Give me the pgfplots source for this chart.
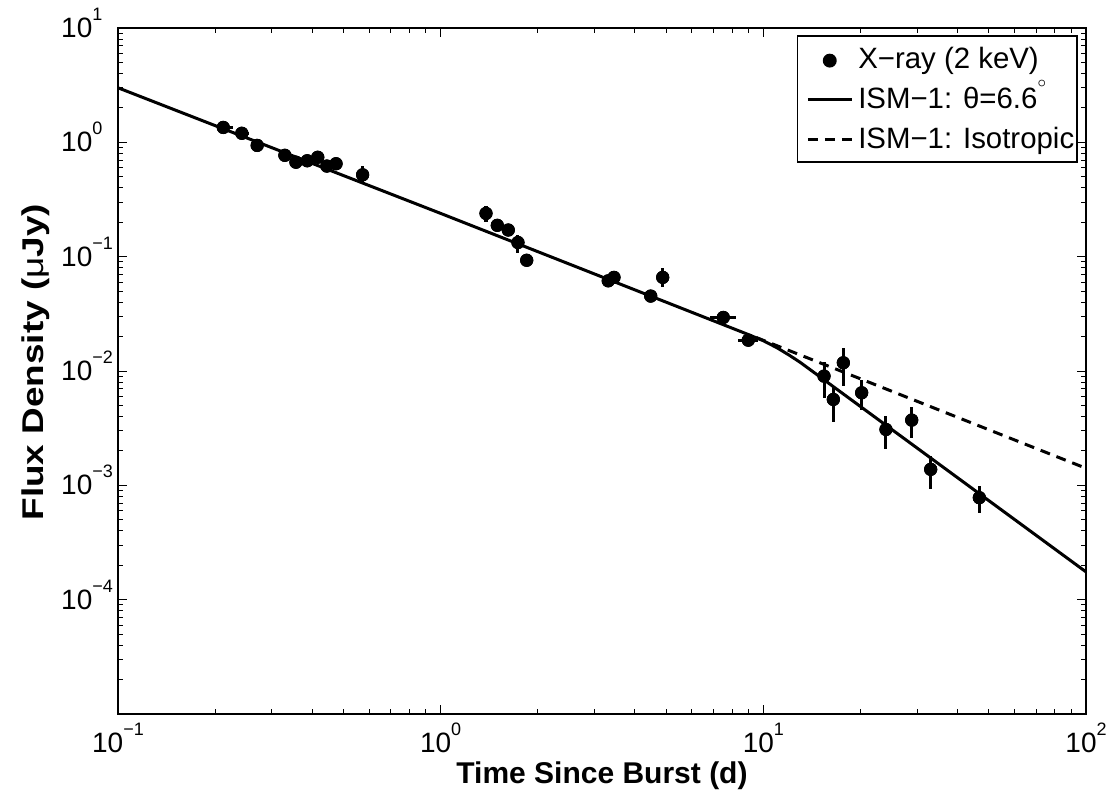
\documentclass[border=0pt]{standalone}
\usepackage{fontspec}
\setmainfont{Liberation Sans}
\usepackage{graphicx}
\usepackage{pgfplots}
\usepackage{pgfplotstable}
\pgfplotsset{compat=1.18}

\newcommand{\xt}[1]{10\raisebox{8.5pt}{\fontsize{9}{9}\selectfont #1}}
\newcommand{\yt}[1]{10\rlap{\smash{\raisebox{8.5pt}{\fontsize{9}{9}\selectfont #1}}}}
\newcommand{\dg}{\smash{\raisebox{10.5pt}{\fontsize{8}{8}\selectfont$\circ$}}}

\pgfplotstableread{
x      y        ep       em       xp     xm
0.212  1.35     0.08     0.08     0.015  0.010
0.242  1.20     0.07     0.07     0.012  0.010
0.270  0.94     0.06     0.06     0      0
0.329  0.77     0.05     0.05     0      0
0.356  0.67     0.05     0.05     0      0
0.386  0.69     0.05     0.05     0      0
0.416  0.74     0.06     0.06     0      0
0.444  0.62     0.06     0.06     0      0
0.474  0.65     0.05     0.05     0      0
0.573  0.52     0.10     0.07     0      0
1.382  0.239    0.040    0.037    0      0
1.498  0.188    0.015    0.015    0      0
1.620  0.171    0.015    0.015    0      0
1.736  0.133    0.023    0.026    0      0
1.848  0.093    0.010    0.010    0      0
3.307  0.0615   0.004    0.004    0      0
3.445  0.0659   0.005    0.005    0      0
4.877  0.0659   0.013    0.012    0      0
4.477  0.0452   0.003    0.003    0      0
7.515  0.0294   0.002    0.002    0.71   0.68
8.98   0.0186   0.0015   0.0015   0.67   0.65
15.42  0.00902  0.0030   0.00326  0      0
16.48  0.00564  0.00174  0.00205  0      0
17.70  0.0118   0.0040   0.0044   0      0
20.17  0.00645  0.0019   0.0019   0      0
23.99  0.00308  0.00095  0.00102  0      0
28.83  0.00372  0.00114  0.00115  0      0
33.01  0.00138  0.00042  0.00046  0      0
46.71  0.00078  0.00020  0.00021  0      0
}\xray

\begin{document}
\begin{tikzpicture}
\begin{axis}[
  xmode=log, ymode=log,
  scale only axis, width=484pt, height=343pt,
  xmin=0.1, xmax=100, ymin=1e-5, ymax=10,
  xtick={0.1,1,10,100},
  xticklabels={\xt{−1},\xt{0},\xt{1},\xt{2}},
  ytick={1e-4,1e-3,1e-2,1e-1,1,10},
  yticklabels={\yt{−4},\yt{−3},\yt{−2},\yt{−1},\yt{0},\yt{1}},
  minor xtick={0.2,0.3,0.4,0.5,0.6,0.7,0.8,0.9,2,3,4,5,6,7,8,9,20,30,40,50,60,70,80,90},
  minor ytick={2e-5,3e-5,4e-5,5e-5,6e-5,7e-5,8e-5,9e-5,
               2e-4,3e-4,4e-4,5e-4,6e-4,7e-4,8e-4,9e-4,
               2e-3,3e-3,4e-3,5e-3,6e-3,7e-3,8e-3,9e-3,
               2e-2,3e-2,4e-2,5e-2,6e-2,7e-2,8e-2,9e-2,
               0.2,0.3,0.4,0.5,0.6,0.7,0.8,0.9,2,3,4,5,6,7,8,9},
  tick pos=both, tick align=inside,
  major tick length=4.5pt, minor tick length=2.5pt,
  every tick/.style={black, line width=0.5pt},
  axis line style={line width=0.75pt},
  tick label style={font=\fontsize{14}{14}\selectfont},
  xticklabel style={yshift=-0.8pt},
  yticklabel style={anchor=east, xshift=-9.3pt},
  xlabel={\textbf{Time Since Burst (d)}},
  xlabel style={at={(axis description cs:0.5,-0.102)}, anchor=base, inner sep=0pt, font=\fontsize{15}{15}\selectfont},
  ylabel={\scalebox{1.23}[1]{\textbf{Flux Density ({\mdseries μ}Jy)}}},
  ylabel style={at={(axis description cs:-0.0706,0.513)}, anchor=south, rotate=0, inner sep=0pt, font=\fontsize{15}{15}\selectfont},
  legend style={at={(rel axis cs:0.9917,0.9894)}, anchor=north east,
    draw=black, line width=0.75pt, font=\fontsize{14.7}{14.7}\selectfont,
    inner xsep=1.5pt, inner ysep=1.5pt, column sep=2.5pt, row sep=0pt,
    nodes={inner sep=0pt, text height=14.9pt, text depth=5.1pt}},
  legend cell align=left,
  legend image code/.code={\path (0pt,0pt); \draw[#1] (3pt,0pt) -- (25pt,0pt);},
]
\coordinate (sw) at (rel axis cs:0,0);
\coordinate (ne) at (rel axis cs:1,1);

\addplot[only marks, black, mark=*, mark size=3.1pt,
  legend image code/.code={\path (0pt,0pt) (25pt,0pt); \fill[black] (14pt,-0.8pt) circle (3.1pt);}]
  table[x=x, y=y]{\xray};
\addlegendentry{X−ray (2 keV)}

\addplot[black, line width=1.5pt] coordinates {
  (0.1,3.0) (1,0.239) (9,0.0208) (10,0.0184) (11,0.01602) (12,0.01382)
  (13,0.01192) (15.4,0.0084) (100,0.000175)};
\addlegendentry{ISM−1: θ=6.6\dg}

\addplot[black, line width=1.5pt, dash pattern=on 5pt off 3.5pt] coordinates {
  (9.5,0.01965) (100,0.00141)};
\addlegendentry{ISM−1: Isotropic}

\addplot[forget plot, only marks, black, mark=*, mark size=3.1pt,
  error bars/.cd, y dir=both, y explicit, x dir=both, x explicit,
  error bar style={line width=1.5pt}, error mark=none]
  table[x=x, y=y, y error plus=ep, y error minus=em, x error plus=xp, x error minus=xm]{\xray};
\end{axis}
\pgfresetboundingbox
\path ([shift={(-59pt,-42pt)}]sw) rectangle ([shift={(14.5pt,14pt)}]ne);
\end{tikzpicture}
\end{document}
